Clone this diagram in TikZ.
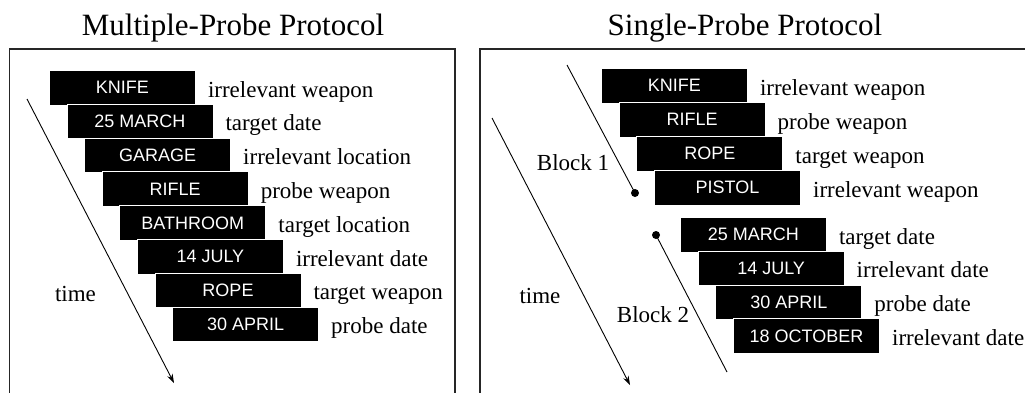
\documentclass[tikz,border=0pt]{standalone}
\usepackage{fontspec}
\setmainfont{Liberation Serif}
\setsansfont{Liberation Sans}
\usetikzlibrary{arrows.meta,calc}
\begin{document}
\begin{tikzpicture}[x=1pt,y=-1pt,
  card/.style={fill=black, draw=white, line width=0.8pt, minimum width=146pt,
    minimum height=34.5pt, inner sep=0pt, anchor=north west, text=white,
    font=\sffamily\fontsize{18}{20}\selectfont},
  lab/.style={anchor=base west, inner sep=0pt, font=\fontsize{23}{26}\selectfont},
  plain/.style={anchor=base, inner sep=0pt, font=\fontsize{23}{26}\selectfont},
  ttl/.style={anchor=base, inner sep=0pt, font=\fontsize{31}{34}\selectfont},
  frame/.style={draw=black!85, line width=1.6pt},
  timeline/.style={draw=black, line width=0.9pt, -{Stealth[length=9pt,width=6pt]}},
  blockline/.style={draw=black, line width=0.9pt},
  dot/.style={circle, fill=black, inner sep=0pt, minimum size=8pt}]
\useasboundingbox (0,0) rectangle (1025,392);
\begin{scope}
\clip (0,0) rectangle (1025,392);
\draw[frame] (9.5,49) rectangle (455,420);
\draw[frame] (480,49) rectangle (1040,420);
\end{scope}
% titles
\node[ttl] (t1) at (233,35) {Multiple-Probe Protocol};
\node[ttl] (t2) at (745,35) {Single-Probe Protocol};
% left panel
\foreach \i/\w/\l in {0/KNIFE/irrelevant weapon, 1/25 MARCH/target date,
  2/GARAGE/irrelevant location, 3/RIFLE/probe weapon, 4/BATHROOM/target location,
  5/14 JULY/irrelevant date, 6/ROPE/target weapon, 7/30 APRIL/probe date}{
  \node[card] (L\i) at ({49+\i*17.6},{70+\i*33.8}) {\w};
  \node[lab] (LL\i) at ($(L\i.east)+(12,9.5)$) {\l};
}
\coordinate (ls) at (27,99);
\coordinate (le) at (174,383);
\draw[timeline] (ls) -- (le);
\node[plain] (time1) at (75.5,301) {time};
% right panel, block 1
\foreach \i/\w/\l in {0/KNIFE/irrelevant weapon, 1/RIFLE/probe weapon,
  2/ROPE/target weapon, 3/PISTOL/irrelevant weapon}{
  \node[card] (A\i) at ({601+\i*17.7},{68+\i*34}) {\w};
  \node[lab] (AL\i) at ($(A\i.east)+(12,9.5)$) {\l};
}
% right panel, block 2
\foreach \i/\w/\l in {0/25 MARCH/target date, 1/14 JULY/irrelevant date,
  2/30 APRIL/probe date, 3/18 OCTOBER/irrelevant date}{
  \node[card] (B\i) at ({680+\i*17.7},{217+\i*33.8}) {\w};
  \node[lab] (BL\i) at ($(B\i.east)+(12,9.5)$) {\l};
}
\coordinate (rs) at (492,118);
\coordinate (re) at (630,385);
\draw[timeline] (rs) -- (re);
\node[plain] (time2) at (540,303) {time};
\coordinate (b1s) at (567,65);
\node[dot] (d1) at (635,193) {};
\draw[blockline] (b1s) -- (d1.center);
\node[dot] (d2) at (656,235) {};
\coordinate (b2e) at (727,372);
\draw[blockline] (d2.center) -- (b2e);
\node[plain] (blk1) at (573,170) {Block 1};
\node[plain] (blk2) at (653,322) {Block 2};
\end{tikzpicture}
\end{document}
